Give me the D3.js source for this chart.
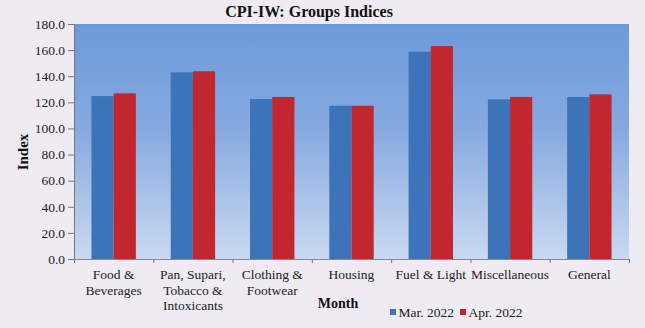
<!DOCTYPE html>
<html><head><meta charset="utf-8">
<script src="https://cdn.jsdelivr.net/npm/d3@7"></script>
<style>
html,body{margin:0;padding:0;background:#eeebf2;}
svg{display:block;font-family:"Liberation Serif","Times New Roman",serif;}
</style></head>
<body>
<svg id="c" width="645" height="328"></svg>
<script>
const categories = [["Food &","Beverages"],["Pan, Supari,","Tobacco &","Intoxicants"],["Clothing &","Footwear"],["Housing"],["Fuel & Light"],["Miscellaneous"],["General"]];
const seriesNames = ["Mar, 2022","Apr, 2022"];
const marValues = [124.8,143.0,122.5,117.4,158.8,122.3,124.1];
const aprValues = [126.9,143.8,124.1,117.4,163.1,124.1,126.1];
const yTicks = [0,20,40,60,80,100,120,140,160,180];
const colors = ["#3d74b9","#c1272f"];

const svg = d3.select("#c");
const L=74, R=629, T=24, B=259;
const defs = svg.append("defs");
const g = defs.append("linearGradient").attr("id","bg").attr("x1",0).attr("y1",0).attr("x2",0).attr("y2",1);
g.append("stop").attr("offset","0%").attr("stop-color","#6c9ad9");
g.append("stop").attr("offset","45%").attr("stop-color","#86aae0");
g.append("stop").attr("offset","100%").attr("stop-color","#c9d9f1");
svg.append("rect").attr("x",L).attr("y",T).attr("width",R-L).attr("height",B-T).attr("fill","url(#bg)");

const x = d3.scaleBand().domain(d3.range(categories.length)).range([L,R]).paddingInner(0.44).paddingOuter(0.22);
const xs = d3.scaleBand().domain([0,1]).range([0,x.bandwidth()]);
const y = d3.scaleLinear().domain([0,180]).range([B,T]);

const data = categories.map((c,i)=>({i, vals:[marValues[i],aprValues[i]]}));
const grp = svg.append("g").selectAll("g").data(data).join("g").attr("transform",d=>`translate(${x(d.i)},0)`);
grp.selectAll("rect").data(d=>d.vals.map((v,k)=>({v,k}))).join("rect")
  .attr("x",d=>xs(d.k)).attr("width",xs.bandwidth()).attr("y",d=>y(d.v)).attr("height",d=>B-y(d.v))
  .attr("fill",d=>colors[d.k]);

// y axis
const ya = svg.append("g").attr("transform",`translate(${L},0)`)
  .call(d3.axisLeft(y).tickValues(yTicks).tickFormat(d3.format(".1f")).tickSize(6).tickPadding(3));
ya.attr("font-family",null);
ya.select(".domain").attr("stroke","#777");
ya.selectAll(".tick line").attr("stroke","#777");
ya.selectAll("text").attr("font-size","13.5px").attr("fill","#222");

// x axis
const xl = d3.scaleLinear().domain([0,categories.length]).range([L,R]);
const xa = svg.append("g").attr("transform",`translate(0,${B})`)
  .call(d3.axisBottom(xl).tickValues(d3.range(categories.length+1)).tickSize(4).tickFormat(""));
xa.select(".domain").attr("stroke","#888");
xa.selectAll(".tick line").attr("stroke","#777");

const lab = svg.append("g").attr("font-size","13.5px").attr("fill","#222").attr("text-anchor","middle");
categories.forEach((c,i)=>{
  const t = lab.append("text").attr("x",x(i)+x.bandwidth()/2).attr("y",279);
  c.forEach((ln,j)=>t.append("tspan").attr("x",x(i)+x.bandwidth()/2).attr("dy",j?15.5:0).text(ln));
});

svg.append("text").attr("x",309).attr("y",17).attr("text-anchor","middle").attr("font-weight","bold").attr("font-size","16px").attr("fill","#111").text("CPI-IW: Groups Indices");
svg.append("text").attr("transform","translate(28,152) rotate(-90)").attr("text-anchor","middle").attr("font-weight","bold").attr("font-size","15px").attr("fill","#111").text("Index");
svg.append("text").attr("x",338).attr("y",308).attr("text-anchor","middle").attr("font-weight","bold").attr("font-size","14px").attr("fill","#111").text("Month");

const leg = svg.append("g").attr("font-size","13.5px").attr("fill","#222");
const lx=[390,460];
seriesNames.forEach((n,k)=>{
  leg.append("rect").attr("x",lx[k]).attr("y",309).attr("width",6).attr("height",6).attr("fill",colors[k]);
  leg.append("text").attr("x",lx[k]+8.5).attr("y",317).text(n.replace(",","."));
});
</script>
</body></html>
